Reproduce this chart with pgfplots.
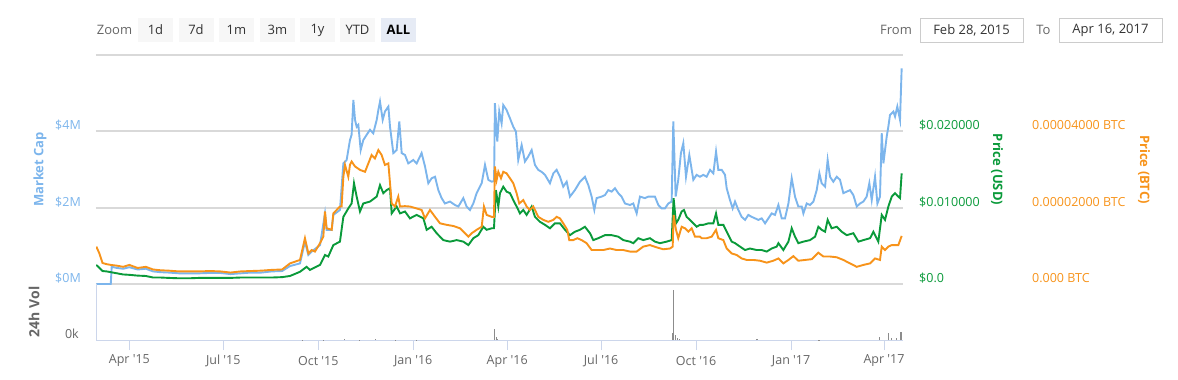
\documentclass[border=0pt]{standalone}
\usepackage{fontspec}
\setmainfont{Open Sans}
\usepackage{pgfplots}
\pgfplotsset{compat=1.18}
\definecolor{mcblue}{HTML}{7CB5EC}
\definecolor{usdgreen}{HTML}{0A9A3A}
\definecolor{btcorange}{HTML}{F7931A}
\definecolor{gridgray}{HTML}{D9D9D9}
\definecolor{axblue}{HTML}{CCD6EB}
\definecolor{labgray}{HTML}{666666}
\definecolor{txtgray}{HTML}{333333}
\definecolor{btnfill}{HTML}{F7F7F7}
\definecolor{btnsel}{HTML}{E6EBF5}
\definecolor{boxline}{HTML}{CCCCCC}
\definecolor{volgray}{HTML}{8C8C8C}
\newcommand{\lab}{\fontsize{12.5}{14}\selectfont}
\newcommand{\ttl}{\bfseries\fontsize{13}{15}\selectfont}
\pgfplotsset{panel/.style={scale only axis, width=807pt, height=229pt,
  xmin=-0.3, xmax=781.4, ymin=0, at={(96pt,-284pt)}, anchor=south west,
  hide x axis, major tick length=0pt, axis line style={draw=none},
  scaled y ticks=false, clip mode=individual}}
\begin{document}
\begin{tikzpicture}
\path[use as bounding box] (0pt,0pt) rectangle (1178pt,-380pt);
% toolbar
\node[text=labgray, font=\fontsize{13}{15}\selectfont] at (114.5pt,-30pt) {Zoom};
\foreach \lbl/\cx in {1d/155.5, 7d/196, 1m/236.5, 3m/277.5, 1y/317.5, YTD/357.5}
  \node[fill=btnfill, minimum width=35pt, minimum height=24pt, inner sep=0pt, text=txtgray, font=\fontsize{13}{15}\selectfont] at (\cx pt,-30pt) {\lbl};
\node[fill=btnsel, minimum width=35pt, minimum height=24pt, inner sep=0pt, text=black, font=\bfseries\fontsize{13}{15}\selectfont] at (398.5pt,-30pt) {ALL};
\node[text=labgray, font=\fontsize{13}{15}\selectfont] at (896pt,-30pt) {From};
\node[draw=boxline, fill=white, minimum width=103pt, minimum height=24pt, inner sep=0pt, text=txtgray, font=\fontsize{13}{15}\selectfont] at (971.5pt,-30pt) {Feb 28, 2015};
\node[text=labgray, font=\fontsize{13}{15}\selectfont] at (1043.5pt,-30pt) {To};
\node[draw=boxline, fill=white, minimum width=103pt, minimum height=24pt, inner sep=0pt, text=txtgray, font=\fontsize{13}{15}\selectfont] at (1110.5pt,-30pt) {Apr 16, 2017};

% Market cap (left axis)
\begin{axis}[panel, ymax=6, axis y line*=left,
  ytick={0,2,4,6}, yticklabels={\$0M,\$2M,\$4M,{}},
  ymajorgrids, grid style={gridgray, line width=1.7pt},
  yticklabel style={anchor=east, inner sep=0pt, xshift=-15pt, yshift=6pt, text=mcblue, font=\lab}]
\addplot[mcblue, line width=1.9pt] coordinates {
(0,0) (14,0) (14.9,0.45) (20,0.42) (26,0.40) (32,0.44) (40,0.38) (48,0.40) (55,0.33) (62,0.31) (70,0.30) (80,0.28) (90,0.28) (100,0.28) (110,0.29) (120,0.29) (130,0.26) (140,0.28) (150,0.30) (160,0.30) (170,0.33) (180,0.34)
(187.6,0.47) (197.3,0.54) (202.1,1.11) (205.4,0.76) (208.6,0.85) (216.7,1.02) (221.5,1.85) (223.1,1.42) (228.0,1.42) (229.6,1.81) (236.0,1.94) (239.3,3.16) (242.5,3.25) (245.7,3.77) (247.3,3.91) (249.0,4.82) (250.6,4.30) (252.2,4.12) (253.8,4.17) (256.1,3.51) (258.6,3.77) (261.9,3.91) (265.1,4.04) (268.3,3.95) (271.6,4.30) (273.2,4.56) (274.8,4.78) (277.4,4.30) (279.6,4.52) (282.9,4.65) (284.5,4.12) (287.7,3.43) (290.9,3.51) (293.5,4.26) (295.8,3.43) (299.0,3.38) (302.2,3.16) (307.1,3.25) (310.3,3.16) (315.1,3.43) (318.4,3.08) (321.6,2.64) (324.8,2.77) (328.1,2.81) (331.3,2.46) (334.5,2.25) (337.7,2.11) (342.6,2.16) (347.4,2.07) (350.7,2.03) (355.5,2.25) (358.7,2.03) (362.0,1.94) (365.2,2.11) (368.4,2.38) (373.3,2.64) (376.5,3.12) (379.7,2.73) (383.0,2.68) (385.3,2.70)
(386.1,4.74) (388.4,3.73) (390.3,4.52) (392.6,4.21) (394.2,4.69) (397.4,4.56) (400.7,4.34) (403.9,4.12) (406.5,3.99) (408.7,3.25) (412.0,3.64) (415.2,3.21) (418.4,3.34) (421.7,3.51) (424.9,3.12) (428.1,2.99) (431.3,2.94) (434.6,2.86) (439.4,2.64) (442.7,2.90) (445.9,2.99) (449.1,2.81) (452.3,2.55) (455.6,2.68) (458.8,2.29) (463.6,2.46) (468.5,2.68) (473.3,2.81) (476.6,2.59) (479.8,2.29) (482.4,1.94) (484.6,2.25) (489.5,2.29) (492.7,2.33) (495.9,2.46) (499.2,2.42) (502.4,2.51) (505.6,2.38) (508.8,2.29) (512.1,2.11) (516.9,2.07) (520.1,2.11) (523.4,1.85) (526.6,2.29) (531.4,2.25) (534.7,2.29) (537.9,2.29) (541.1,2.29) (544.4,2.07) (547.6,1.98) (550.8,1.98) (554.1,2.11) (557.3,2.16)
(558.9,4.26) (561.2,2.29) (563.7,2.73) (566.3,3.43) (568.6,3.69) (571.2,2.81) (574.4,3.38) (578.3,2.73) (581.5,2.86) (584.7,2.81) (588.0,2.86) (591.2,2.81) (594.5,2.99) (597.7,2.90) (600.3,3.47) (602.5,2.99) (605.8,2.99) (609.0,2.86) (610.6,2.51) (613.8,2.20) (616.4,1.98) (618.7,2.16) (621.9,1.94) (625.1,1.76) (628.4,1.68) (631.6,1.81) (634.8,1.76) (638.1,1.72) (641.3,1.68) (644.5,1.72) (647.8,1.59) (651.0,1.72) (654.2,1.85) (657.4,1.81) (660.7,2.07) (663.9,1.72) (667.1,1.72) (670.4,2.11) (673.6,2.77) (676.8,2.29) (680.0,2.03) (683.3,2.03) (684.9,1.85) (688.1,2.11) (691.3,2.07) (694.6,2.16) (697.8,2.46) (700.4,2.90) (702.6,2.64) (705.9,2.55) (708.4,3.25) (710.7,2.81) (713.9,2.68) (717.2,2.81) (720.4,2.73) (723.6,2.38) (726.9,2.42) (730.1,2.46) (733.3,2.33) (736.6,2.03) (739.8,2.11) (743.0,2.16) (746.2,2.29) (748.8,2.64) (751.1,2.20) (754.3,2.81) (756.6,2.11) (759.1,2.29) (760.8,3.95) (762.4,3.16) (765.6,3.86) (767.2,4.12) (768.8,4.43) (772.1,4.52) (773.7,4.39) (775.9,4.65) (778.5,4.30) (780.1,5.65)
};
\node[rotate=90, text=mcblue, font=\ttl] at (axis description cs:-0.0694,0.5) {Market Cap};
\end{axis}

% Price USD (first right axis)
\begin{axis}[panel, ymax=0.03, axis y line*=right,
  ytick={0,0.01,0.02}, yticklabels={\$0.0,\$0.010000,\$0.020000},
  yticklabel style={anchor=west, inner sep=0pt, xshift=16pt, yshift=6pt, text=usdgreen, font=\lab}]
\addplot[usdgreen, line width=1.9pt] coordinates {
(0,0.0025) (3,0.0021) (6,0.0017) (10,0.00165) (20,0.0014) (26,0.00125) (32,0.0012) (40,0.0011) (48,0.00105) (55,0.00085) (62,0.00085) (70,0.0008) (80,0.00075) (90,0.00075) (100,0.0008) (110,0.0008) (120,0.0008) (130,0.0008) (140,0.00085) (150,0.00085) (160,0.00085) (170,0.00085) (180,0.0009)
(187.6,0.00105) (197.3,0.0016) (203.7,0.00225) (206.9,0.00185) (216.7,0.0025) (221.5,0.0038) (224.7,0.0036) (229.6,0.0051) (236.0,0.00555) (239.3,0.0088) (244.1,0.0099) (247.3,0.01055) (249.6,0.0132) (252.2,0.01145) (255.4,0.0095) (258.6,0.01055) (265.1,0.0108) (271.6,0.01145) (274.8,0.01295) (278.0,0.0119) (281.2,0.0123) (284.5,0.01255) (286.1,0.00925) (290.9,0.01015) (294.2,0.00925) (299.0,0.0095) (303.8,0.0086) (310.3,0.00905) (316.8,0.0086) (320.0,0.0071) (324.8,0.0075) (329.7,0.00665) (336.1,0.00575) (342.6,0.00555) (349.1,0.00575) (355.5,0.00555) (360.4,0.0051) (365.2,0.006) (370.0,0.0064) (374.9,0.0075) (378.1,0.0071) (383.0,0.0073) (385.2,0.0073)
(387.1,0.0123) (389.4,0.01015) (391.0,0.0119) (394.2,0.01275) (397.4,0.0121) (400.7,0.0119) (403.9,0.011) (407.1,0.01015) (410.4,0.00925) (413.6,0.0097) (416.8,0.00905) (421.7,0.01015) (424.9,0.0088) (429.7,0.00815) (434.6,0.00775) (439.4,0.0073) (444.3,0.00795) (449.1,0.00795) (454.0,0.0071) (458.8,0.0064) (463.6,0.00685) (468.5,0.0071) (473.3,0.0075) (478.2,0.00665) (481.4,0.00575) (486.2,0.006) (492.7,0.0064) (499.2,0.0064) (505.6,0.0062) (510.5,0.00575) (516.9,0.00555) (520.1,0.00535) (525.0,0.006) (529.8,0.00575) (536.3,0.006) (541.1,0.00555) (546.0,0.00535) (552.4,0.00555) (557.3,0.00575)
(559.2,0.01125) (561.5,0.00795) (563.7,0.0084) (567.0,0.0095) (569.2,0.0097) (571.8,0.0088) (575.0,0.0084) (578.3,0.00795) (581.5,0.0075) (584.7,0.00775) (588.0,0.00775) (592.9,0.00795) (597.7,0.00795) (600.3,0.00925) (602.5,0.00775) (607.4,0.00775) (610.6,0.00685) (615.5,0.00555) (618.7,0.00535) (623.5,0.0049) (628.4,0.00445) (633.2,0.00465) (639.7,0.00445) (644.5,0.00445) (649.4,0.00425) (654.2,0.00465) (659.1,0.0049) (660.7,0.00535) (665.5,0.00445) (670.4,0.00555) (673.6,0.0073) (676.8,0.0062) (680.0,0.00535) (684.9,0.00555) (691.3,0.00575) (696.2,0.0062) (699.4,0.0075) (702.6,0.0071) (705.9,0.00685) (708.4,0.0084) (712.3,0.0073) (717.2,0.0075) (722.0,0.00685) (726.9,0.0064) (733.3,0.00665) (738.2,0.00555) (743.0,0.00575) (749.5,0.006) (752.7,0.00685) (757.5,0.00555) (760.8,0.00905) (764.0,0.0084) (767.2,0.01015) (770.5,0.01145) (773.7,0.0119) (776.9,0.01145) (778.5,0.01125) (780.1,0.0145)
};
\node[rotate=-90, text=usdgreen, font=\ttl] at (axis description cs:1.1165,0.5) {Price (USD)};
\end{axis}

% Price BTC (second right axis)
\begin{axis}[panel, ymax=6e-5, axis y line*=right,
  ytick={0,2e-5,4e-5}, yticklabels={0.000 BTC,0.00002000 BTC,0.00004000 BTC},
  yticklabel style={anchor=west, inner sep=0pt, xshift=129pt, yshift=6pt, text=btcorange, font=\lab}]
\addplot[btcorange, line width=1.9pt] coordinates {
(0,0.98e-5) (3,0.80e-5) (6,0.55e-5) (10,0.52e-5) (14,0.50e-5) (20,0.48e-5) (26,0.45e-5) (32,0.50e-5) (40,0.42e-5) (48,0.45e-5) (55,0.38e-5) (62,0.36e-5) (70,0.35e-5) (80,0.33e-5) (90,0.33e-5) (100,0.33e-5) (110,0.34e-5) (120,0.33e-5) (130,0.30e-5) (140,0.33e-5) (150,0.34e-5) (160,0.35e-5) (170,0.37e-5) (180,0.38e-5)
(187.6,0.54e-5) (197.3,0.63e-5) (202.1,1.20e-5) (205.4,0.80e-5) (208.6,0.89e-5) (211.8,0.85e-5) (216.7,1.07e-5) (219.9,1.24e-5) (221.5,1.90e-5) (223.1,1.46e-5) (228.0,1.42e-5) (229.6,1.85e-5) (232.8,1.94e-5) (236.0,2.03e-5) (237.6,2.03e-5) (239.3,2.81e-5) (240.9,3.12e-5) (244.1,2.81e-5) (245.7,3.12e-5) (247.3,3.21e-5) (250.6,3.08e-5) (255.4,2.99e-5) (260.3,2.94e-5) (263.5,3.16e-5) (266.7,3.38e-5) (269.9,3.29e-5) (273.2,3.51e-5) (276.4,3.38e-5) (279.6,3.12e-5) (282.9,3.16e-5) (284.5,2.64e-5) (286.1,2.11e-5) (289.3,2.03e-5) (292.5,2.29e-5) (294.2,2.03e-5) (299.0,2.04e-5) (303.8,2.03e-5) (310.3,1.98e-5) (315.1,1.94e-5) (318.4,1.72e-5) (323.2,1.94e-5) (328.1,1.76e-5) (332.9,1.59e-5) (339.4,1.55e-5) (345.8,1.52e-5) (352.3,1.46e-5) (357.1,1.33e-5) (360.4,1.24e-5) (363.6,1.33e-5) (368.4,1.42e-5) (373.3,1.50e-5) (375.5,2.03e-5) (378.1,1.81e-5) (383.0,1.76e-5) (385.2,1.76e-5)
(386.1,3.08e-5) (387.8,2.73e-5) (389.4,2.94e-5) (392.0,2.77e-5) (394.2,2.94e-5) (397.4,2.90e-5) (400.7,2.77e-5) (403.9,2.64e-5) (407.1,2.38e-5) (409.7,2.11e-5) (413.6,2.20e-5) (416.8,2.03e-5) (420.0,1.94e-5) (423.3,2.03e-5) (428.1,1.76e-5) (433.0,1.68e-5) (437.8,1.63e-5) (442.7,1.68e-5) (445.9,1.76e-5) (449.1,1.72e-5) (452.3,1.59e-5) (456.2,1.42e-5) (458.1,1.15e-5) (462.0,1.15e-5) (465.9,1.20e-5) (470.1,1.15e-5) (474.9,1.07e-5) (479.8,0.89e-5) (484.6,0.89e-5) (491.1,0.89e-5) (497.5,0.93e-5) (504.0,0.89e-5) (510.5,0.89e-5) (516.9,0.85e-5) (523.4,0.85e-5) (529.8,0.98e-5) (536.3,1.02e-5) (542.8,0.96e-5) (549.2,0.91e-5) (555.7,0.93e-5) (558.3,0.98e-5)
(559.2,1.81e-5) (561.5,1.42e-5) (563.7,1.20e-5) (567.0,1.50e-5) (570.2,1.46e-5) (573.5,1.37e-5) (576.7,1.46e-5) (579.9,1.24e-5) (584.7,1.24e-5) (586.4,1.20e-5) (591.2,1.20e-5) (596.1,1.24e-5) (600.3,1.42e-5) (602.5,1.20e-5) (607.4,1.15e-5) (610.6,0.93e-5) (615.5,0.80e-5) (620.3,0.76e-5) (625.1,0.67e-5) (630.0,0.63e-5) (636.5,0.63e-5) (642.9,0.61e-5) (649.4,0.56e-5) (655.8,0.61e-5) (660.7,0.67e-5) (665.5,0.54e-5) (670.4,0.63e-5) (675.2,0.73e-5) (680.0,0.61e-5) (686.5,0.63e-5) (693.0,0.65e-5) (699.4,0.82e-5) (704.3,0.72e-5) (710.7,0.72e-5) (717.2,0.70e-5) (723.6,0.63e-5) (730.1,0.54e-5) (736.6,0.45e-5) (743.0,0.50e-5) (749.5,0.54e-5) (754.3,0.67e-5) (759.1,0.63e-5) (760.8,0.98e-5) (764.0,0.89e-5) (767.2,0.98e-5) (770.5,1.02e-5) (773.7,1.02e-5) (776.9,1.02e-5) (780.1,1.26e-5)
};
\node[rotate=-90, text=btcorange, font=\ttl] at (axis description cs:1.2986,0.5) {Price (BTC)};
\end{axis}

% 24h volume panel
\begin{axis}[scale only axis, width=807pt, height=56pt, at={(96pt,-340pt)}, anchor=south west,
  xmin=-0.3, xmax=781.4, ymin=0, ymax=50, clip mode=individual,
  axis x line*=bottom, axis y line*=left,
  axis line style={axblue, line width=1pt},
  xtick={32,123,215,307,398,489,581,673,763},
  xticklabels={Apr \textquotesingle15,Jul \textquotesingle15,Oct \textquotesingle15,Jan \textquotesingle16,Apr \textquotesingle16,Jul \textquotesingle16,Oct \textquotesingle16,Jan \textquotesingle17,Apr \textquotesingle17},
  xtick align=outside, major tick length=10pt,
  xtick style={axblue, line width=1pt}, ytick style={draw=none},
  xticklabel style={anchor=center, inner sep=0pt, yshift=-11pt, text=labgray, font=\lab},
  ytick={0}, yticklabels={0k},
  yticklabel style={anchor=east, inner sep=0pt, xshift=-17pt, yshift=6pt, text=labgray, font=\lab}]
\addplot[ycomb, volgray, line width=1.1pt] coordinates {
(200,0.3) (220,0.4) (240,0.5) (255,0.4) (270,0.5) (290,0.4) (310,0.3) (386,9.5) (387.5,3) (389,1) (558,6) (559.5,44.6) (561,4.5) (563,2) (565,1) (640,0.5) (700,0.4) (759,3) (767,6) (770,1.5) (775,1.5) (779.5,7.4)
};
\node[rotate=90, text=labgray, font=\bfseries\fontsize{14}{16}\selectfont] at (axis description cs:-0.0768,0.5) {24h Vol};
\end{axis}
\end{tikzpicture}
\end{document}
